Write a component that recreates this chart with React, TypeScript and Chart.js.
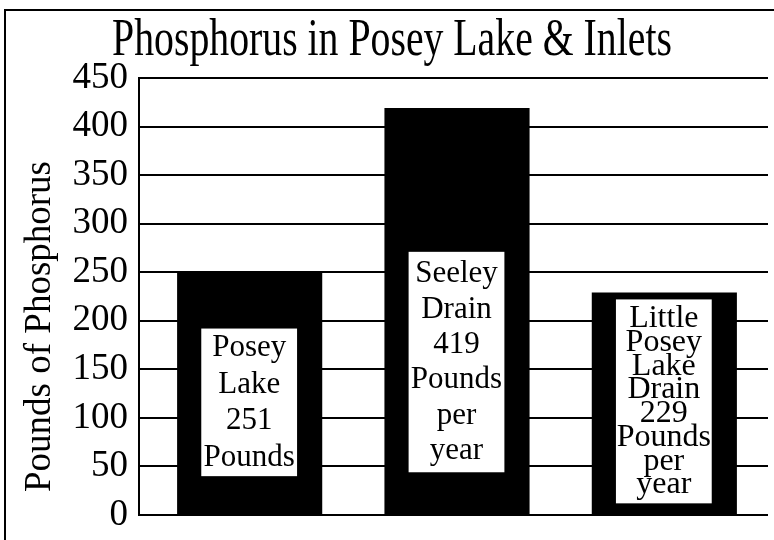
import React, { useEffect, useRef } from 'react';
import { Chart, registerables } from 'chart.js';

Chart.register(...registerables);

const TITLE = 'Phosphorus in Posey Lake & Inlets';
const Y_TITLE = 'Pounds of Phosphorus';
const CATEGORIES = ['Posey Lake', 'Seeley Drain', 'Little Posey Lake Drain'];
const VALUES = [251, 419, 229];
const Y_MIN = 0;
const Y_MAX = 450;
const Y_STEP = 50;

// Text shown in the white boxes inside each bar
const LABEL_LINES = [
  ['Posey', 'Lake', '251', 'Pounds'],
  ['Seeley', 'Drain', '419', 'Pounds', 'per', 'year'],
  ['Little', 'Posey', 'Lake', 'Drain', '229', 'Pounds', 'per', 'year'],
];
// vertical extent of the white label boxes, in axis units
const LABEL_BOX_TOP = [192, 271, 222];
const LABEL_BOX_BOTTOM = [40, 44, 12];
const LABEL_FONT = [31, 31, 32];
const LABEL_LINE_HEIGHT = [36.5, 35.4, 23.7];

const SERIF = '"Liberation Serif", "Times New Roman", Times, serif';
const TICK_LEN = 7;

const barLabelPlugin = {
  id: 'barLabels',
  afterDatasetsDraw(chart: any) {
    const ctx = chart.ctx;
    const meta = chart.getDatasetMeta(0);
    const yScale = chart.scales.y;
    meta.data.forEach((el: any, i: number) => {
      const lines = LABEL_LINES[i];
      if (!lines) return;
      const bw = el.width * 0.66;
      const top = yScale.getPixelForValue(LABEL_BOX_TOP[i]);
      const bottom = yScale.getPixelForValue(LABEL_BOX_BOTTOM[i]);
      const cx = el.x - 0.5;
      ctx.save();
      ctx.fillStyle = '#ffffff';
      ctx.fillRect(cx - bw / 2, top, bw, bottom - top);
      ctx.fillStyle = '#000000';
      ctx.font = `${LABEL_FONT[i]}px ${SERIF}`;
      ctx.textAlign = 'center';
      ctx.textBaseline = 'alphabetic';
      const mid = (top + bottom) / 2 + 0.28 * LABEL_FONT[i];
      const lh = LABEL_LINE_HEIGHT[i];
      const n = lines.length;
      lines.forEach((t, k) => {
        ctx.fillText(t, cx, mid + (k - (n - 1) / 2) * lh);
      });
      ctx.restore();
    });
  },
};

const framePlugin = {
  id: 'frame',
  afterDraw(chart: any) {
    const ctx = chart.ctx;
    const { left, top, bottom } = chart.chartArea;
    ctx.save();
    // outer frame (continues beyond the picture on the right and bottom)
    ctx.strokeStyle = '#000000';
    ctx.lineWidth = 2;
    ctx.beginPath();
    ctx.moveTo(5, chart.height + 5);
    ctx.lineTo(5, 10);
    ctx.lineTo(chart.width + 5, 10);
    ctx.stroke();
    // y axis line
    const ax = Math.round(left - TICK_LEN);
    ctx.beginPath();
    ctx.moveTo(ax, top - 1);
    ctx.lineTo(ax, bottom + 1);
    ctx.stroke();
    // title (narrow, tall lettering)
    ctx.fillStyle = '#000000';
    ctx.font = `53px ${SERIF}`;
    ctx.textAlign = 'center';
    ctx.textBaseline = 'alphabetic';
    ctx.save();
    ctx.translate(chart.width / 2 + 5, 55);
    ctx.scale(0.75, 1);
    ctx.fillText(TITLE, 0, 0);
    ctx.restore();
    // y axis title, sitting a little below the plot's middle
    ctx.font = `37px ${SERIF}`;
    ctx.textBaseline = 'middle';
    ctx.translate(40, (top + bottom) / 2 + 30);
    ctx.rotate(-Math.PI / 2);
    ctx.fillText(Y_TITLE, 0, 0);
    ctx.restore();
  },
};

export default function App() {
  const canvasRef = useRef<HTMLCanvasElement | null>(null);

  useEffect(() => {
    document.body.style.margin = '0';
    const canvas = canvasRef.current;
    if (!canvas) return;
    const chart = new Chart(canvas, {
      type: 'bar',
      data: {
        labels: CATEGORIES,
        datasets: [
          {
            data: VALUES,
            backgroundColor: '#000000',
            borderWidth: 0,
            barPercentage: 0.7,
            categoryPercentage: 1,
          },
        ],
      },
      options: {
        responsive: false,
        animation: false,
        devicePixelRatio: 1,
        layout: { padding: { top: 78, right: 6, bottom: 25, left: 0 } },
        plugins: {
          legend: { display: false },
          title: { display: false },
          tooltip: { enabled: false },
        },
        scales: {
          x: {
            display: false,
          },
          y: {
            min: Y_MIN,
            max: Y_MAX,
            afterFit: (scale: any) => {
              scale.width = 146;
              scale.paddingTop = 0;
              scale.paddingBottom = 0;
            },
            ticks: {
              stepSize: Y_STEP,
              color: '#000000',
              padding: 11,
              font: { family: SERIF, size: 37 },
            },
            grid: {
              color: '#000000',
              lineWidth: 2,
              drawTicks: true,
              tickLength: TICK_LEN,
            },
            border: { display: false },
            title: { display: false },
          },
        },
      },
      plugins: [barLabelPlugin, framePlugin],
    });
    return () => chart.destroy();
  }, []);

  return (
    <div style={{ width: 774, height: 540, background: '#ffffff' }}>
      <canvas ref={canvasRef} width={774} height={540} style={{ display: 'block' }} />
    </div>
  );
}
